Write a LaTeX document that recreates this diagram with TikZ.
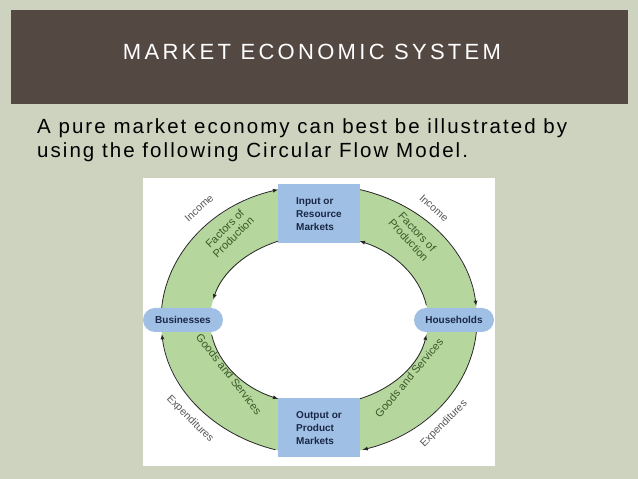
\documentclass[tikz,border=0pt]{standalone}
\usepackage{fontspec}
\setmainfont{Liberation Sans}
\definecolor{pagebg}{HTML}{CDD3BF}
\definecolor{hdr}{HTML}{544843}
\definecolor{ring}{HTML}{B5D69C}
\definecolor{boxblue}{HTML}{9FC0E4}
\definecolor{navy}{HTML}{1A2747}
\definecolor{lbl}{HTML}{3A5A2A}
\definecolor{gry}{HTML}{555555}
\begin{document}
\begin{tikzpicture}[x=1pt,y=1pt,
  mbox/.style={fill=boxblue,text=navy,font=\bfseries\fontsize{10}{13}\selectfont,align=left,minimum width=82pt,minimum height=59pt,inner sep=0pt},
  pill/.style={fill=boxblue,text=navy,font=\bfseries\fontsize{10}{12}\selectfont,rounded corners=12pt,minimum width=80pt,minimum height=24pt,inner sep=0pt},
  flow/.style={draw=black!85,line width=0.8pt,-latex},
  glab/.style={text=lbl,font=\fontsize{11}{12}\selectfont,align=center},
  olab/.style={text=gry,font=\fontsize{10.5}{12}\selectfont}]
\useasboundingbox (0,0) rectangle (638,479);
\fill[pagebg] (0,0) rectangle (638,479);
\fill[hdr] (11,375) rectangle (628,469);
\node[text=white,font=\fontsize{22}{24}\selectfont\addfontfeature{LetterSpace=15}] (title) at (312,427) {MARKET ECONOMIC SYSTEM};
\node[anchor=base west,inner sep=0pt,font=\fontsize{20.5}{24}\selectfont\addfontfeature{LetterSpace=10}] (l1) at (37,345) {A pure market economy can best be illustrated by};
\node[anchor=base west,inner sep=0pt,font=\fontsize{20.5}{24}\selectfont\addfontfeature{LetterSpace=10}] (l2) at (37,321) {using the following Circular Flow Model.};
\fill[white] (143,13) rectangle (495,301);
\coordinate (c) at (319,159);
\fill[ring,even odd rule] (c) ellipse[x radius=158pt,y radius=135pt] (c) ellipse[x radius=109pt,y radius=85pt];
\begin{scope}[shift={(319,159)}]
\draw[flow] (180:158pt and 135pt) arc[start angle=180,end angle=105,x radius=158pt,y radius=135pt];
\draw[flow] (75:158pt and 135pt) arc[start angle=75,end angle=6,x radius=158pt,y radius=135pt];
\draw[flow] (360:158pt and 135pt) arc[start angle=360,end angle=286,x radius=158pt,y radius=135pt];
\draw[flow] (254:158pt and 135pt) arc[start angle=254,end angle=186,x radius=158pt,y radius=135pt];
\draw[flow] (112:109pt and 85pt) arc[start angle=112,end angle=166,x radius=109pt,y radius=85pt];
\draw[flow] (10:109pt and 85pt) arc[start angle=10,end angle=68,x radius=109pt,y radius=85pt];
\draw[flow] (190:109pt and 85pt) arc[start angle=190,end angle=248,x radius=109pt,y radius=85pt];
\draw[flow] (292:109pt and 85pt) arc[start angle=292,end angle=350,x radius=109pt,y radius=85pt];
\end{scope}
\node[mbox] (in) at (319,265) {Input or\\Resource\\Markets};
\node[mbox] (out) at (319,51) {Output or\\Product\\Markets};
\node[pill] (bus) at (183,159) {Businesses};
\node[pill] (hh) at (454,159) {Households};
\node[olab,rotate=42] (inc1) at (199,271) {Income};
\node[glab,rotate=45] (fp1) at (229,246) {Factors of\\Production};
\node[olab,rotate=-42] (inc2) at (434,271) {Income};
\node[glab,rotate=-47] (fp2) at (413,243) {Factors of\\Production};
\node[glab,rotate=-52] (gs1) at (229,105) {Goods and Services};
\node[olab,rotate=-45] (ex1) at (190,60) {Expenditures};
\node[glab,rotate=50] (gs2) at (409,101) {Goods and Services};
\node[olab,rotate=45] (ex2) at (444,55) {Expenditures};
\end{tikzpicture}
\end{document}
